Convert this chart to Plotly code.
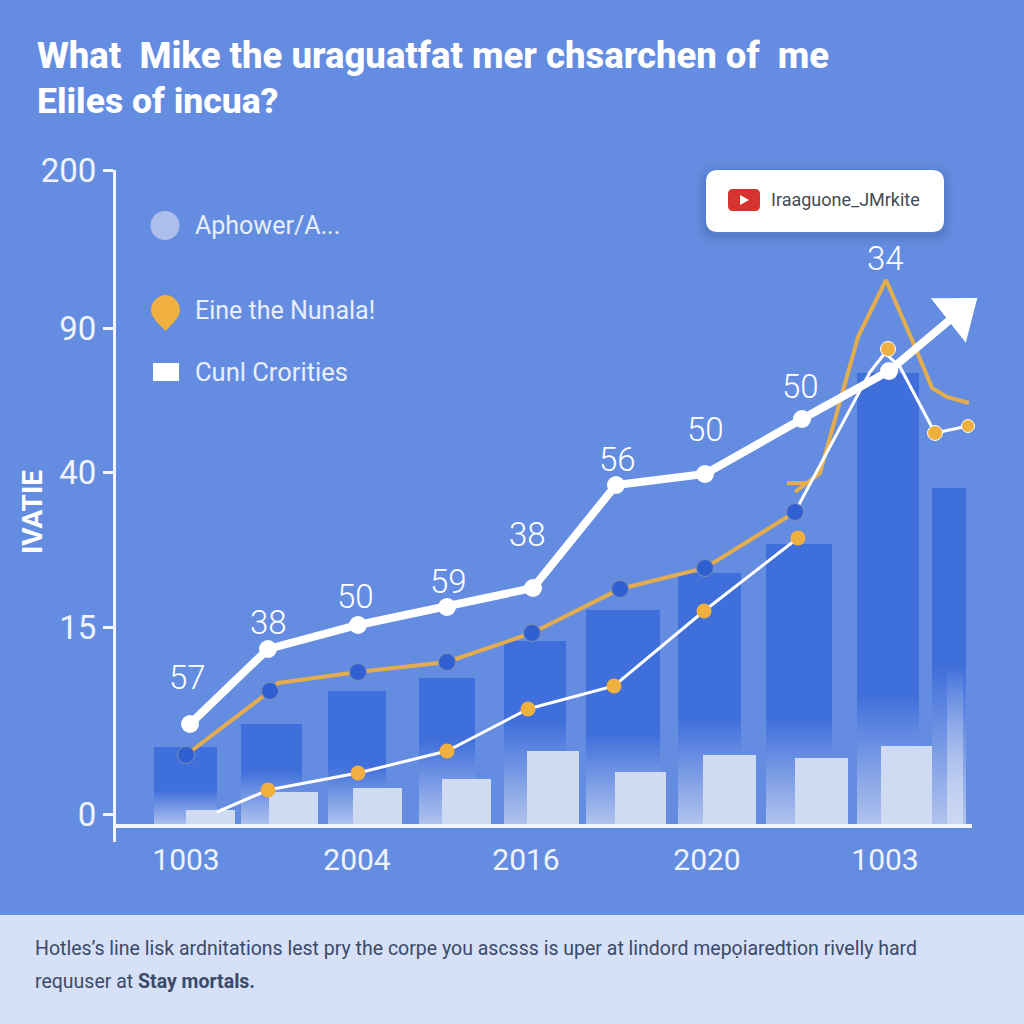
import plotly.graph_objects as go

# Categories / tick labels
x_tick_vals = [7.2, 24.3, 41.2, 59.3, 77.1]
x_tick_text = ["1003", "2004", "2016", "2020", "1003"]
y_tick_vals = [3, 49.75, 88.5, 124.5, 164]
y_tick_text = ["0", "15", "40", "90", "200"]

# Dark bars
dark_x = [7.15, 15.75, 24.3, 33.3, 42.1, 50.9, 59.55, 68.5, 77.4, 83.5]
dark_w = [6.3, 6.1, 5.8, 5.6, 6.2, 7.4, 6.3, 6.6, 6.2, 3.4]
dark_y = [19.75, 25.5, 33.75, 37, 46.25, 54, 63.25, 70.5, 113.25, 84.5]
dark_fade = [9, 14, 15, 21.5, 26, 23, 27, 27, 33, 40]

# Light bars
light_x = [9.65, 17.95, 26.35, 35.25, 43.9, 52.65, 61.55, 70.75, 79.25]
light_w = [4.9, 4.9, 4.9, 4.9, 5.2, 5.1, 5.3, 5.3, 5.1]
light_y = [4, 8.5, 9.5, 11.75, 18.75, 13.5, 17.75, 17, 20]

# Thick white line, the last point runs into the arrow head
main_x = [7.6, 15.4, 24.4, 33.3, 41.9, 50.2, 59.1, 68.8, 77.5, 84.4]
main_y = [25.5, 44.25, 50.25, 54.75, 59.5, 85.25, 88, 101.75, 113.75, 128.25]
value_labels = ["57", "38", "50", "59", "38", "56", "50", "50", "34"]
label_x = [7.3, 15.4, 24.1, 33.4, 41.3, 50.3, 59.1, 68.6, 77.1]
label_y = [37.25, 51, 57.5, 61.25, 73, 91.75, 99.25, 110, 142]

# Yellow lines
gold_x = [7.2, 15.6, 16.4, 24.4, 33.3, 41.8, 50.6, 59.1, 68.1]
gold_y = [17.75, 33.75, 35.75, 38.5, 41, 48.25, 59.25, 64.5, 78.5]
hook_x = [67.3, 69.6]
hook_y = [85.75, 85.75]
peak_x = [68.1, 70.6, 74.4, 77.2, 79.9, 81.8, 83.3, 85.5]
peak_y = [83.5, 88.25, 122.25, 136.5, 121, 109.5, 107.25, 105.75]

# Thin white lines
thin_x = [10.3, 15.4, 24.4, 33.3, 41.4, 50, 59, 68.4]
thin_y = [3.5, 9, 13.25, 18.75, 29.25, 35, 53.75, 72]
upper_x = [68.1, 75.6, 77.1, 78.6, 82.1, 85.4]
upper_y = [78.5, 113.5, 118.25, 114.75, 98.25, 100]
top_dots_x = [77.4, 82.1, 85.4]
top_dots_y = [119.25, 98.25, 100]

BG = "#648de1"
DARK = "#3f6fdb"
LIGHT = "#cfdaf3"
GOLD = "#e3ad4f"
ORANGE = "#f0b040"
WHITE = "#ffffff"
AXIS = "#f2f5fd"
FONT = "Roboto"


# page pixels to paper fractions of the plot area
def fx(px):
    return (px - 116) / 856


def fy(py):
    return (824 - py) / 654


def rounded(x0, y0, x1, y1, r):
    pts = [
        f"M{fx(x0 + r)},{fy(y0)}",
        f"L{fx(x1 - r)},{fy(y0)}",
        f"Q{fx(x1)},{fy(y0)} {fx(x1)},{fy(y0 + r)}",
        f"L{fx(x1)},{fy(y1 - r)}",
        f"Q{fx(x1)},{fy(y1)} {fx(x1 - r)},{fy(y1)}",
        f"L{fx(x0 + r)},{fy(y1)}",
        f"Q{fx(x0)},{fy(y1)} {fx(x0)},{fy(y1 - r)}",
        f"L{fx(x0)},{fy(y0 + r)}",
        f"Q{fx(x0)},{fy(y0)} {fx(x0 + r)},{fy(y0)}",
        "Z",
    ]
    return "".join(pts)


def fade(x, w, top, bottom_alpha=0.8):
    left, right = x - w / 2, x + w / 2
    return go.Scatter(
        x=[left, right, right, left, left],
        y=[0, 0, top, top, 0],
        mode="lines",
        line=dict(width=0),
        fill="toself",
        fillgradient=dict(
            type="vertical",
            start=top,
            stop=0,
            colorscale=[
                [0, "rgba(207,218,243,0)"],
                [1, f"rgba(207,218,243,{bottom_alpha})"],
            ],
        ),
        hoverinfo="skip",
    )


fig = go.Figure()

fig.add_trace(go.Bar(x=dark_x, y=dark_y, width=dark_w, marker=dict(color=DARK, line_width=0)))
fig.add_trace(go.Bar(x=light_x, y=light_y, width=light_w, marker=dict(color=LIGHT, line_width=0)))

for bx, bw, top in zip(dark_x, dark_w, dark_fade):
    fig.add_trace(fade(bx, bw, top))
# pale strip in front of the last bar
fig.add_trace(fade(84.1, 1.6, 40, 0.95))

fig.add_trace(go.Scatter(x=hook_x, y=hook_y, mode="lines", line=dict(color=GOLD, width=4)))
fig.add_trace(go.Scatter(x=peak_x, y=peak_y, mode="lines", line=dict(color=GOLD, width=4), cliponaxis=False))
fig.add_trace(
    go.Scatter(x=upper_x, y=upper_y, mode="lines", line=dict(color=WHITE, width=3), cliponaxis=False)
)
fig.add_trace(
    go.Scatter(
        x=top_dots_x,
        y=top_dots_y,
        mode="markers",
        cliponaxis=False,
        marker=dict(color=ORANGE, size=[15, 15, 13], opacity=1),
    )
)
fig.add_trace(
    go.Scatter(
        x=thin_x,
        y=thin_y,
        mode="lines+markers",
        line=dict(color=WHITE, width=3),
        marker=dict(color=ORANGE, size=[0] + [15] * 7, line_width=0, opacity=1),
    )
)
fig.add_trace(
    go.Scatter(
        x=gold_x,
        y=gold_y,
        mode="lines+markers",
        line=dict(color=GOLD, width=4),
        marker=dict(
            color="#2f5fd0",
            size=[17, 17, 0, 17, 17, 17, 17, 17, 17],
            opacity=1,
            line=dict(color="#7d8db0", width=1),
        ),
    )
)
fig.add_trace(
    go.Scatter(
        x=main_x,
        y=main_y,
        mode="lines+markers",
        cliponaxis=False,
        line=dict(color=WHITE, width=8),
        marker=dict(color=WHITE, size=[18] * 9 + [0], line_width=0, opacity=1),
    )
)
# arrow head
fig.add_trace(
    go.Scatter(
        x=main_x[-1:],
        y=main_y[-1:],
        mode="markers",
        cliponaxis=False,
        marker=dict(color=WHITE, size=49, symbol="triangle-up", angle=52, line_width=0),
    )
)

shapes = [
    # bottom band
    dict(type="rect", xref="paper", yref="paper", x0=fx(0), x1=fx(1024), y0=fy(915), y1=fy(1024),
         fillcolor="#d6e0f6", line_width=0),
    # y axis runs a little past the x axis
    dict(type="line", xref="paper", yref="paper", x0=fx(114.5), x1=fx(114.5), y0=fy(826), y1=fy(842),
         line=dict(color=AXIS, width=3)),
    # legend swatches
    dict(type="circle", xref="paper", yref="paper", x0=fx(150.5), x1=fx(179.5), y0=fy(211), y1=fy(240),
         fillcolor="#adbeec", line_width=0),
    dict(type="path", xref="paper", yref="paper", fillcolor=ORANGE, line_width=0,
         path=(f"M{fx(151)},{fy(310)}C{fx(151)},{fy(302)} {fx(158)},{fy(295)} {fx(165.5)},{fy(295)}"
               f"C{fx(173)},{fy(295)} {fx(180)},{fy(302)} {fx(180)},{fy(310)}"
               f"C{fx(180)},{fy(318)} {fx(170)},{fy(326)} {fx(165.5)},{fy(331)}"
               f"C{fx(161)},{fy(326)} {fx(151)},{fy(318)} {fx(151)},{fy(310)}Z")),
    dict(type="rect", xref="paper", yref="paper", x0=fx(153), x1=fx(179), y0=fy(363), y1=fy(381),
         fillcolor=WHITE, line_width=0),
]

# soft shadow, then the white box with the red badge
for grow, alpha in [(10, 0.03), (7, 0.04), (4, 0.05), (2, 0.06)]:
    shapes.append(
        dict(type="path", xref="paper", yref="paper", line_width=0,
             fillcolor=f"rgba(30,50,110,{alpha})",
             path=rounded(706 - grow, 170 - grow + 3, 944 + grow, 232 + grow + 3, 12 + grow))
    )
shapes += [
    dict(type="path", xref="paper", yref="paper", fillcolor=WHITE, line_width=0,
         path=rounded(706, 170, 944, 232, 12)),
    dict(type="path", xref="paper", yref="paper", fillcolor="#d8322e", line_width=0,
         path=rounded(728, 189, 760, 211, 5)),
    dict(type="path", xref="paper", yref="paper", fillcolor=WHITE, line_width=0,
         path=f"M{fx(740)},{fy(195)}L{fx(749)},{fy(200)}L{fx(740)},{fy(205)}Z"),
]


def note(text, px, py, size, color=WHITE, anchor="left", weight=None, **kw):
    return dict(text=text, x=fx(px), y=fy(py), xref="paper", yref="paper", xanchor=anchor,
                yanchor="middle", showarrow=False,
                font=dict(family=FONT, size=size, color=color, weight=weight), **kw)


annotations = [
    note("What  Mike the uraguatfat mer chsarchen of  me", 35, 56, 36.5, weight=800),
    note("Eliles of incua?", 35, 101, 35.5, weight=800),
    note("IVATIE", 32, 512, 28, anchor="center", weight=700, textangle=-90),
    note("Aphower/A...", 193, 226, 25, "#e8eefb"),
    note("Eine the Nunala!", 193, 310, 25, "#e8eefb"),
    note("Cunl Crorities", 193, 372, 25.5, "#e8eefb"),
    note("Iraaguone_JMrkite", 769, 199, 18, "#444a55"),
    note("Hotles’s line lisk ardnitations lest pry the corpe you ascsss is uper at lindord mepọiaredtion rivelly hard",
         33, 948, 19.5, "#3a4a6a"),
    note("requuser at <b>Stay mortals.</b>", 33, 981, 19.5, "#3a4a6a"),
]
for text, lx, ly in zip(value_labels, label_x, label_y):
    annotations.append(
        dict(text=text, x=lx, y=ly, xref="x", yref="y", showarrow=False, yanchor="middle",
             font=dict(family=FONT, size=33, color=WHITE, weight=300))
    )

fig.update_layout(
    width=1024,
    height=1024,
    margin=dict(l=116, r=52, t=170, b=200, autoexpand=False),
    paper_bgcolor=BG,
    plot_bgcolor=BG,
    showlegend=False,
    barmode="overlay",
    shapes=shapes,
    annotations=annotations,
    font=dict(family=FONT, color=WHITE),
    xaxis=dict(
        range=[0.2, 85.8],
        tickmode="array",
        tickvals=x_tick_vals,
        ticktext=x_tick_text,
        ticks="",
        showgrid=False,
        zeroline=False,
        showline=True,
        linecolor=AXIS,
        linewidth=4,
        ticklabelstandoff=6,
        tickfont=dict(family=FONT, size=30, color="#eef3fd"),
    ),
    yaxis=dict(
        range=[0.5, 164],
        tickmode="array",
        tickvals=y_tick_vals,
        ticktext=y_tick_text,
        ticks="outside",
        ticklen=10,
        tickwidth=3,
        tickcolor=AXIS,
        showgrid=False,
        zeroline=False,
        showline=True,
        linecolor=AXIS,
        linewidth=3,
        tickfont=dict(family=FONT, size=33, color="#eef3fd"),
    ),
)

fig.write_html(
    "out.html",
    config={"displayModeBar": False},
    post_script="document.body.style.margin='0';document.body.style.overflow='hidden';",
)
